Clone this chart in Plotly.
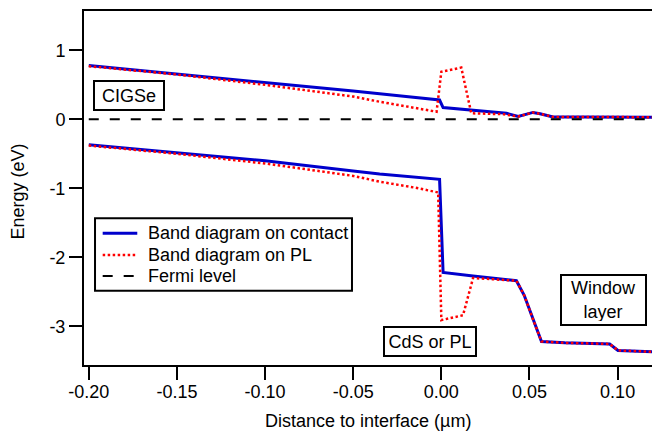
import plotly.graph_objects as go

# Conduction band, on contact
cb_contact_x = [-0.2, -0.15, -0.1, -0.05, -0.02, -0.001, 0.001, 0.016, 0.037, 0.0436, 0.048, 0.052, 0.056, 0.0634, 0.08, 0.1, 0.12]
cb_contact_y = [0.78, 0.66, 0.54, 0.41, 0.33, 0.28, 0.17, 0.135, 0.087, 0.04, 0.07, 0.10, 0.08, 0.035, 0.035, 0.03, 0.03]
# Valence band, on contact
vb_contact_x = [-0.2, -0.15, -0.1, -0.05, -0.035, -0.001, 0.001, 0.018, 0.0426, 0.047, 0.052, 0.0568, 0.07, 0.0955, 0.1002, 0.12]
vb_contact_y = [-0.37, -0.48, -0.60, -0.75, -0.793, -0.87, -2.22, -2.27, -2.34, -2.55, -2.90, -3.22, -3.24, -3.256, -3.35, -3.37]
# Conduction band, on PL
cb_pl_x = [-0.2, -0.15, -0.1, -0.05, -0.035, -0.015, -0.0027, 0.0, 0.0113, 0.017, 0.035, 0.0436, 0.048, 0.052, 0.056, 0.0634, 0.08, 0.1, 0.12]
cb_pl_y = [0.77, 0.65, 0.50, 0.33, 0.255, 0.17, 0.11, 0.69, 0.75, 0.087, 0.075, 0.04, 0.07, 0.10, 0.08, 0.035, 0.035, 0.03, 0.03]
# Valence band, on PL
vb_pl_x = [-0.2, -0.15, -0.1, -0.05, -0.035, -0.015, -0.0018, 0.0, 0.0123, 0.018, 0.0426, 0.047, 0.052, 0.0568, 0.07, 0.0955, 0.1002, 0.12]
vb_pl_y = [-0.38, -0.50, -0.64, -0.82, -0.904, -0.99, -1.06, -2.91, -2.84, -2.30, -2.34, -2.55, -2.90, -3.22, -3.24, -3.256, -3.35, -3.37]
# Fermi level
fermi_x = [-0.2, 0.12]
fermi_y = [0, 0]

series_names = ["Band diagram on contact", "Band diagram on PL", "Fermi level"]

x_tickvals = [-0.20, -0.15, -0.10, -0.05, 0.00, 0.05, 0.10]
x_ticktext = ["-0.20", "-0.15", "-0.10", "-0.05", "0.00", "0.05", "0.10"]
y_tickvals = [1, 0, -1, -2, -3]
y_ticktext = ["1", "0", "-1", "-2", "-3"]

FONT = "Arial, Liberation Sans, sans-serif"
BLUE = "#0000CC"
RED = "#FF0000"
line_styles = [
    dict(color=BLUE, width=3),
    dict(color=RED, width=2.5, dash="2.5px,2.5px"),
    dict(color="black", width=2, dash="10px,11px"),
]

fig = go.Figure()
fig.add_trace(go.Scatter(x=cb_contact_x + [None] + vb_contact_x,
                         y=cb_contact_y + [None] + vb_contact_y,
                         mode="lines", name=series_names[0], line=line_styles[0]))
fig.add_trace(go.Scatter(x=cb_pl_x + [None] + vb_pl_x,
                         y=cb_pl_y + [None] + vb_pl_y,
                         mode="lines", name=series_names[1], line=line_styles[1]))
fig.add_trace(go.Scatter(x=fermi_x, y=fermi_y, mode="lines", name=series_names[2],
                         line=line_styles[2]))

box = dict(bordercolor="black", borderwidth=2, borderpad=3, bgcolor="white",
           showarrow=False, font=dict(family=FONT, size=18, color="black"),
           xref="x", yref="y")
fig.add_annotation(text="CIGSe", x=-0.1772, y=0.352, width=62, height=21, **box)
fig.add_annotation(text="CdS or PL", x=-0.0065, y=-3.216, width=84, height=21, **box)
fig.add_annotation(text="Window<br>layer", x=0.0918, y=-2.619, width=77, height=42, **box)

fig.add_annotation(text="Energy (eV)", xref="paper", yref="paper", x=-0.1162, y=0.49,
                   textangle=-90, showarrow=False, xanchor="center", yanchor="middle",
                   font=dict(family=FONT, size=18, color="black"))
fig.add_annotation(text="Distance to interface (µm)", xref="paper", yref="paper", x=0.5, y=-0.158,
                   showarrow=False, xanchor="center", yanchor="middle",
                   font=dict(family=FONT, size=18, color="black"))

# Legend (drawn manually to match the compact entry spacing)
leg_box = dict(x0=0.0194, x1=0.4718, y0=0.2099, y1=0.4144)
leg_rows = [0.3720, 0.3107, 0.2514]
leg_sample_x = (0.0329, 0.0938)
leg_text_x = 0.1092
fig.add_shape(type="rect", xref="paper", yref="paper", fillcolor="white",
              line=dict(color="black", width=2), layer="above", **leg_box)
for name, style, yy in zip(series_names, line_styles, leg_rows):
    fig.add_shape(type="line", xref="paper", yref="paper",
                  x0=leg_sample_x[0], x1=leg_sample_x[1], y0=yy, y1=yy,
                  line=style, layer="above")
    fig.add_annotation(text=name, xref="paper", yref="paper", x=leg_text_x, y=yy,
                       xanchor="left", yanchor="middle", showarrow=False,
                       font=dict(family=FONT, size=18, color="black"))

axis_common = dict(showgrid=False, zeroline=False, showline=True, linecolor="black", linewidth=2,
                   ticks="outside", ticklen=13, tickwidth=2, tickcolor="black",
                   tickfont=dict(family=FONT, size=18, color="black"))
fig.update_xaxes(range=[-0.2027, 0.1195], tickvals=x_tickvals, ticktext=x_ticktext,
                 mirror=True, ticklabelstandoff=-4, **axis_common)
fig.update_yaxes(range=[-3.561, 1.57], tickvals=y_tickvals, ticktext=y_ticktext,
                 mirror=False, **axis_common)

fig.update_layout(
    width=652, height=431,
    margin=dict(l=84, r=0, t=11, b=66, autoexpand=False),
    paper_bgcolor="white", plot_bgcolor="white",
    font=dict(family=FONT, size=18, color="black"),
    showlegend=False,
)

fig.write_html("out.html", config={"displayModeBar": False},
               post_script="document.body.style.margin='0px';")
